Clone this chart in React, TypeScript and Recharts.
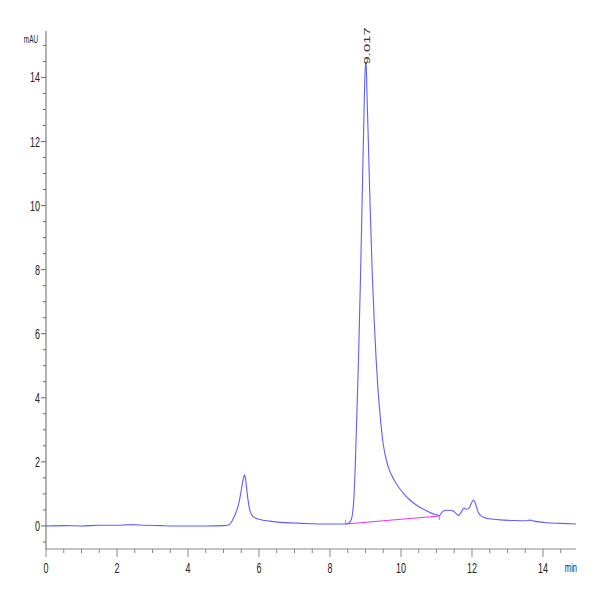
import { LineChart, Line, XAxis, YAxis, ReferenceLine, ReferenceDot, Label } from "recharts";

// retention time (min) and absorbance (mAU)
const TIME = [
  0, 0.5, 1.0, 1.5, 2.0, 2.4, 2.8, 3.2, 3.6, 4.0, 4.5, 5.0,
  5.14, 5.21, 5.28, 5.35, 5.42, 5.47, 5.51, 5.55, 5.59, 5.62, 5.65, 5.69, 5.73, 5.77, 5.82, 5.9,
  6.03, 6.3, 6.6, 7.0, 7.5, 8.0, 8.44, 8.5, 8.58, 8.63, 8.67, 8.71, 8.76, 8.81, 8.86, 8.91, 8.96, 8.99,
  9.017, 9.04, 9.08, 9.13, 9.19, 9.25, 9.3, 9.35, 9.4, 9.5, 9.64, 9.8, 9.92, 10.1, 10.25, 10.45,
  10.68, 10.85, 11.03, 11.08, 11.15, 11.24, 11.38, 11.49, 11.57, 11.63, 11.7, 11.77, 11.83, 11.87,
  11.94, 12.0, 12.04, 12.08, 12.13, 12.18, 12.23, 12.41, 12.6, 12.79, 13.16, 13.5, 13.63, 13.75,
  14.1, 14.5, 14.93,
];
const SIGNAL = [
  0.0, 0.01, 0.0, 0.02, 0.02, 0.04, 0.02, 0.01, 0.0, 0.0, 0.0, 0.01,
  0.03, 0.1, 0.24, 0.42, 0.66, 0.92, 1.18, 1.42, 1.6, 1.48, 1.18, 0.82, 0.55, 0.4, 0.31, 0.25,
  0.2, 0.15, 0.11, 0.09, 0.07, 0.06, 0.06, 0.07, 0.15, 0.35, 0.8, 1.8, 3.6, 5.5, 7.8, 10.4, 13.0, 14.2,
  14.5, 13.6, 12.0, 10.0, 7.9, 6.3, 5.2, 4.3, 3.6, 2.55, 1.85, 1.45, 1.23, 0.98, 0.81, 0.64,
  0.5, 0.4, 0.34, 0.32, 0.42, 0.48, 0.49, 0.45, 0.37, 0.33, 0.44, 0.55, 0.53, 0.52,
  0.6, 0.75, 0.81, 0.75, 0.58, 0.42, 0.34, 0.24, 0.21, 0.19, 0.17, 0.16, 0.18, 0.15,
  0.1, 0.08, 0.06,
];

const X_TICKS = [0, 0.5, 1, 1.5, 2, 2.5, 3, 3.5, 4, 4.5, 5, 5.5, 6, 6.5, 7, 7.5, 8, 8.5, 9, 9.5, 10, 10.5, 11, 11.5, 12, 12.5, 13, 13.5, 14, 14.5];
const Y_TICKS = [-0.5, 0, 0.5, 1, 1.5, 2, 2.5, 3, 3.5, 4, 4.5, 5, 5.5, 6, 6.5, 7, 7.5, 8, 8.5, 9, 9.5, 10, 10.5, 11, 11.5, 12, 12.5, 13, 13.5, 14, 14.5, 15];

// integration baseline under the main peak
const BASE_START = { x: 8.44, y: 0.06 };
const BASE_END = { x: 11.08, y: 0.31 };
const PEAK = { x: 9.017, y: 14.5, label: "9.017" };

const FONT = "'Liberation Sans', Arial, sans-serif";

const data = TIME.map((t, i) => ({ t, mAU: SIGNAL[i] }));

const isMajor = (v: number) => Math.abs(v % 2) < 1e-6;

// the instrument export uses a tall, condensed face
function NarrowText({ x, y, anchor, size, sx, children }: any) {
  return (
    <text
      transform={`translate(${x},${y}) scale(${sx},1)`}
      textAnchor={anchor}
      fontSize={size}
      fontFamily={FONT}
      fill="#222"
    >
      {children}
    </text>
  );
}

function TimeTick({ x, y, payload }: any) {
  const v = payload.value;
  const major = isMajor(v);
  return (
    <g>
      <line x1={x} x2={x} y1={y} y2={y + (major ? 8 : 4)} stroke="#888" />
      {major && (
        <NarrowText x={x} y={y + 24} anchor="middle" size={14.5} sx={0.62}>
          {v}
        </NarrowText>
      )}
    </g>
  );
}

function AbsTick({ x, y, payload }: any) {
  const v = payload.value;
  const major = isMajor(v);
  return (
    <g>
      <line x1={x - (major ? 5 : 3)} x2={x} y1={y} y2={y} stroke="#666" />
      {major && (
        <NarrowText x={x - 6} y={y + 5} anchor="end" size={14.5} sx={0.62}>
          {v}
        </NarrowText>
      )}
    </g>
  );
}

export default function App() {
  return (
    <div style={{ position: "absolute", left: 0, top: 0, width: 600, height: 600, background: "#fff" }}>
      <LineChart width={600} height={600} data={data} margin={{ top: 31, right: 24, bottom: 0, left: 0 }}>
        <XAxis
          dataKey="t"
          type="number"
          domain={[0, 14.93]}
          ticks={X_TICKS}
          interval={0}
          allowDataOverflow
          height={51}
          tickLine={false}
          tickSize={0}
          tickMargin={0}
          stroke="#888"
          tick={<TimeTick />}
        >
          <Label
            content={({ viewBox }: any) => (
              <NarrowText x={viewBox.x + viewBox.width + 1} y={viewBox.y + 23} anchor="end" size={13} sx={0.58}>
                min
              </NarrowText>
            )}
          />
        </XAxis>
        <YAxis
          type="number"
          domain={[-0.72, 15.45]}
          ticks={Y_TICKS}
          interval={0}
          allowDataOverflow
          width={46}
          tickLine={false}
          tickSize={0}
          tickMargin={0}
          stroke="#666"
          tick={<AbsTick />}
        >
          <Label
            content={({ viewBox }: any) => (
              <NarrowText x={viewBox.x + viewBox.width - 8} y={viewBox.y + 12} anchor="end" size={11} sx={0.58}>
                mAU
              </NarrowText>
            )}
          />
        </YAxis>
        <ReferenceLine segment={[BASE_START, BASE_END]} stroke="#ee33ee" strokeWidth={1.2} />
        <ReferenceLine segment={[BASE_START, { x: BASE_START.x, y: BASE_START.y + 0.13 }]} stroke="#999" />
        <ReferenceLine segment={[BASE_END, { x: BASE_END.x, y: BASE_END.y - 0.13 }]} stroke="#999" />
        <Line
          type="monotone"
          dataKey="mAU"
          stroke="#5e5eff"
          strokeWidth={1.1}
          dot={false}
          isAnimationActive={false}
        />
        <ReferenceDot
          x={PEAK.x}
          y={PEAK.y}
          r={0}
          shape={(p: any) => (
            <text
              transform={`translate(${p.cx + 4},${p.cy + 3}) rotate(-90) scale(1.35,0.85)`}
              fontSize={11}
              fontFamily={FONT}
              fill="#333"
            >
              {PEAK.label}
            </text>
          )}
        />
      </LineChart>
    </div>
  );
}
